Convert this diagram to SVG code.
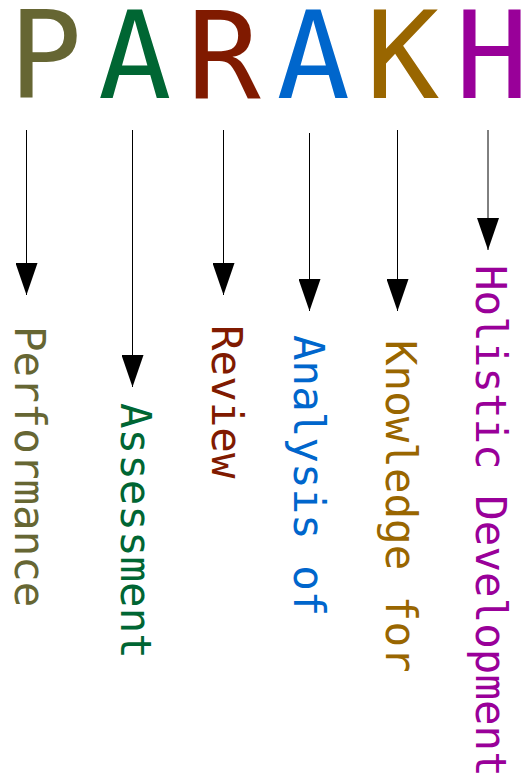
<svg xmlns="http://www.w3.org/2000/svg" width="521" height="780" viewBox="0 0 521 780">
  <style>
    .letter { font-family: "DejaVu Sans Mono", "Liberation Mono", monospace; font-size: 122px; text-anchor: middle; }
    .word { font-family: "DejaVu Sans Mono", "Liberation Mono", monospace; font-size: 42.5px; }
    .conn { stroke: #000; stroke-width: 1; fill: none; marker-end: url(#head); }
    .c1 { fill: #666633; }
    .c2 { fill: #006633; }
    .c3 { fill: #801a00; }
    .c4 { fill: #0066cc; }
    .c5 { fill: #996600; }
    .c6 { fill: #990099; }
  </style>
  <defs>
    <marker id="head" markerUnits="userSpaceOnUse" markerWidth="32" markerHeight="22" refX="32" refY="11" orient="auto" viewBox="0 0 32 22">
      <path d="M0,0 L32,11 L0,22 Z" fill="#000"/>
    </marker>
  </defs>
  <rect width="521" height="780" fill="#fff"/>

  <!-- Title letters -->
  <g id="letter-P"><text class="letter c1" x="45.4" y="97.7">P</text></g>
  <g id="letter-A1"><text class="letter c2" x="134.7" y="97.7">A</text></g>
  <g id="letter-R"><text class="letter c3" x="224" y="97.7">R</text></g>
  <g id="letter-A2"><text class="letter c4" x="313.3" y="97.7">A</text></g>
  <g id="letter-K"><text class="letter c5" x="402.6" y="97.7">K</text></g>
  <g id="letter-H"><text class="letter c6" x="491.9" y="97.7">H</text></g>

  <!-- Connectors -->
  <g id="connectors">
    <path class="conn" d="M26.5,130 V295"/>
    <path class="conn" d="M132.5,130 V387"/>
    <path class="conn" d="M223.5,130 V295"/>
    <path class="conn" d="M309.5,133 V311"/>
    <path class="conn" d="M397.5,130 V311"/>
    <path class="conn" d="M488,130 V250"/>
  </g>

  <!-- Expanded words, written top to bottom -->
  <g id="word-performance"><text class="word c1" transform="translate(15,326) rotate(90)">Performance</text></g>
  <g id="word-assessment"><text class="word c2" transform="translate(120.7,403) rotate(90)">Assessment</text></g>
  <g id="word-review"><text class="word c3" transform="translate(211.7,325) rotate(90)">Review</text></g>
  <g id="word-analysis"><text class="word c4" transform="translate(294.3,335) rotate(90)">Analysis of</text></g>
  <g id="word-knowledge"><text class="word c5" transform="translate(385.7,340) rotate(90)">Knowledge for</text></g>
  <g id="word-holistic"><text class="word c6" transform="translate(475.7,265) rotate(90)">Holistic Development</text></g>
</svg>
